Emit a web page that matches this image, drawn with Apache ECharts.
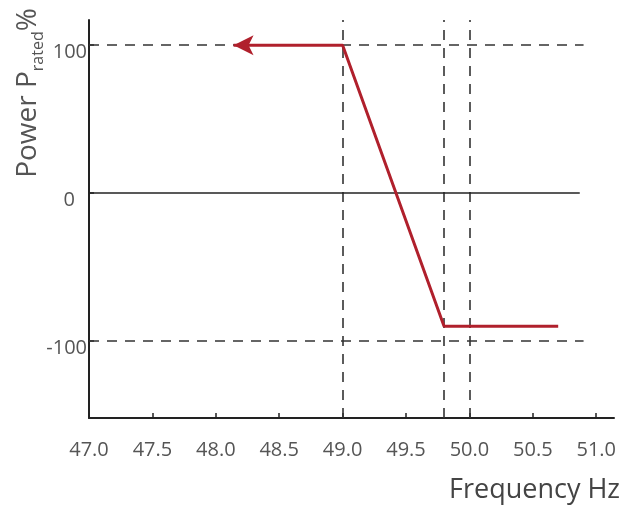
<!DOCTYPE html>
<html>
<head>
<meta charset="utf-8">
<script src="https://cdn.jsdelivr.net/npm/echarts@6/dist/echarts.min.js"></script>
<style>html,body{margin:0;padding:0;background:#fff}#c{width:629px;height:506px}</style>
</head>
<body>
<div id="c"></div>
<script>
// Data
var xTicks = [47.0, 47.5, 48.0, 48.5, 49.0, 49.5, 50.0, 50.5, 51.0];
var yTicks = [-100, 0, 100];
var curveX = [48.14, 49.0, 49.8, 50.7];
var curveY = [100, 100, -90, -90];
var refX = [49.0, 49.8, 50.0];
var refY = [100, -100];
var refEndX = 50.9;
var zeroEndX = 50.87;
var xMin = 47, xMax = 51.14, yMin = -152, yMax = 117;

var chart = echarts.init(document.getElementById('c'));
var curve = curveX.map(function (x, i) {
  var p = { value: [x, curveY[i]] };
  if (i === 0) { p.symbol = 'arrow'; p.symbolSize = [15, 20]; p.symbolRotate = 90; }
  return p;
});
var dash = { color: '#333', width: 1.6, type: [10, 8] };
var markData = [];
refX.forEach(function (x) { markData.push({ xAxis: x, lineStyle: dash }); });
refY.forEach(function (y) { markData.push([{ coord: [xMin, y], lineStyle: dash }, { coord: [refEndX, y] }]); });
markData.push([{ coord: [xMin, 0], lineStyle: { color: '#222', width: 1.6, type: 'solid' } }, { coord: [zeroEndX, 0] }]);

chart.setOption({
  animation: false,
  grid: { left: 89, right: 15, top: 20, bottom: 88 },
  xAxis: {
    type: 'value', min: xMin, max: xMax,
    axisLine: { onZero: false, lineStyle: { color: '#222', width: 2 } },
    axisTick: { show: true, inside: true, length: 5, customValues: xTicks, lineStyle: { color: '#222', width: 1.5 } },
    axisLabel: { customValues: xTicks, margin: 22, color: '#555', fontSize: 20, fontFamily: 'Open Sans',
      formatter: function (v) { return v.toFixed(1); } },
    splitLine: { show: false },
    name: 'Frequency Hz', nameLocation: 'end', nameGap: 0,
    nameTextStyle: { color: '#444', fontSize: 27, fontFamily: 'Open Sans', align: 'right', verticalAlign: 'top', padding: [59, -6, 0, 0] }
  },
  yAxis: {
    type: 'value', min: yMin, max: yMax,
    axisLine: { onZero: false, lineStyle: { color: '#222', width: 2 } },
    axisTick: { show: true, inside: true, length: 5, customValues: yTicks, lineStyle: { color: '#222', width: 1.5 } },
    axisLabel: { customValues: yTicks, margin: 2, color: '#555', fontSize: 20, fontFamily: 'Open Sans', verticalAlign: 'top', lineHeight: 14,
      formatter: function (v) { return v === 0 ? '{z|0}' : String(v); },
      rich: { z: { fontSize: 20, fontFamily: 'Open Sans', color: '#555', lineHeight: 14, padding: [0, 12, 0, 0] } } },
    splitLine: { show: false }
  },
  graphic: [{
    type: 'text', x: 30, y: 93, rotation: Math.PI / 2,
    style: {
      text: '{a|Power P}{s|rated}{a|%}',
      align: 'center', verticalAlign: 'middle',
      rich: {
        a: { fontSize: 28, fontFamily: 'Open Sans', fill: '#555', lineHeight: 30, verticalAlign: 'top' },
        s: { fontSize: 16, fontFamily: 'Open Sans', fill: '#555', padding: [16, 0, 0, 0], verticalAlign: 'bottom' }
      }
    }
  }],
  series: [{
    type: 'line', data: curve, symbol: 'none', showSymbol: true,
    lineStyle: { color: '#b0202c', width: 3 }, itemStyle: { color: '#b0202c' },
    z: 5,
    markLine: { silent: true, symbol: 'none', label: { show: false }, data: markData }
  }]
});
</script>
</body>
</html>
